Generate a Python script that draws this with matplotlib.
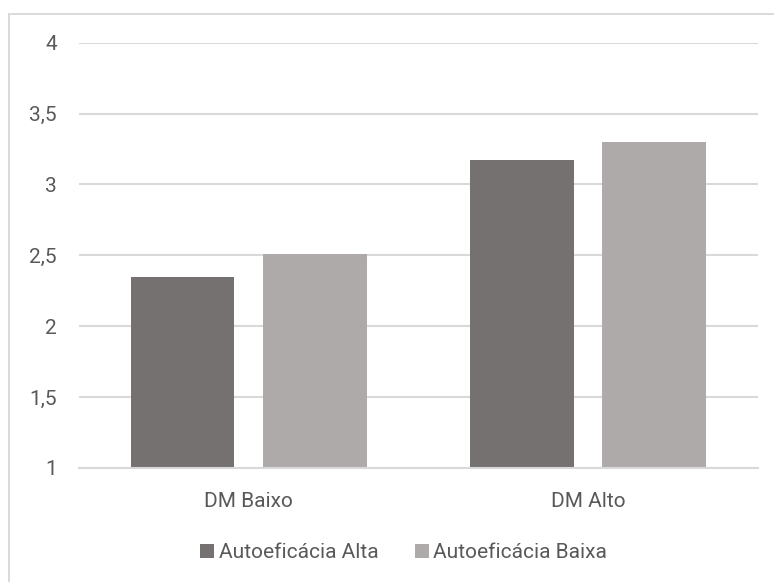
import numpy as np
import matplotlib
matplotlib.use("Agg")
from matplotlib import pyplot as plt
import matplotlib.patches as mpatches

# dados
categorias = ["DM Baixo", "DM Alto"]
series = ["Autoeficácia Alta", "Autoeficácia Baixa"]
valores_alta = [2.35, 3.17]
valores_baixa = [2.51, 3.30]
marcas_y = [1, 1.5, 2, 2.5, 3, 3.5, 4]
rotulos_y = ["1", "1,5", "2", "2,5", "3", "3,5", "4"]

cores = ["#767171", "#AEAAAA"]
cor_texto = "#595959"
cor_grade = "#D9D9D9"

plt.rcParams["font.family"] = ["Roboto", "DejaVu Sans"]

fig = plt.figure(figsize=(7.74, 5.82), dpi=100)
ax = fig.add_axes([0.102, 0.196, 0.877, 0.7306])

# moldura do grafico (so aparecem esquerda e topo)
moldura = mpatches.Rectangle((8.5 / 774, -0.1), 1.2, 1 - 13.5 / 582 + 0.1,
                             transform=fig.transFigure, fill=False,
                             edgecolor=cor_grade, linewidth=1.4)
fig.patches.append(moldura)

x = np.arange(len(categorias))
largura = 0.305
desloc = 0.195
ax.bar(x - desloc, valores_alta, largura, bottom=0, color=cores[0],
       label=series[0], zorder=3)
ax.bar(x + desloc, valores_baixa, largura, bottom=0, color=cores[1],
       label=series[1], zorder=3)

ax.set_xlim(-0.5, 1.5)
ax.set_ylim(1, 4)
ax.set_yticks(marcas_y)
ax.set_yticklabels(rotulos_y)
ax.set_xticks(x)
ax.set_xticklabels(categorias)

ax.grid(axis="y", color=cor_grade, linewidth=1.5, zorder=0)
for lado in ["top", "right", "left"]:
    ax.spines[lado].set_visible(False)
ax.spines["bottom"].set_color(cor_grade)
ax.spines["bottom"].set_linewidth(1.5)
ax.spines["bottom"].set_zorder(4)

ax.tick_params(axis="both", length=0, labelsize=15, labelcolor=cor_texto)
ax.tick_params(axis="y", pad=16)
ax.tick_params(axis="x", pad=17)

leg = ax.legend(loc="center", bbox_to_anchor=(403.5 / 774, (582 - 553) / 582),
                bbox_transform=fig.transFigure, ncol=2, frameon=False,
                fontsize=15, handlelength=0.68, handleheight=0.68,
                handletextpad=0.22, columnspacing=1.75)
for t in leg.get_texts():
    t.set_color(cor_texto)

fig.savefig("out.png", dpi=100)
